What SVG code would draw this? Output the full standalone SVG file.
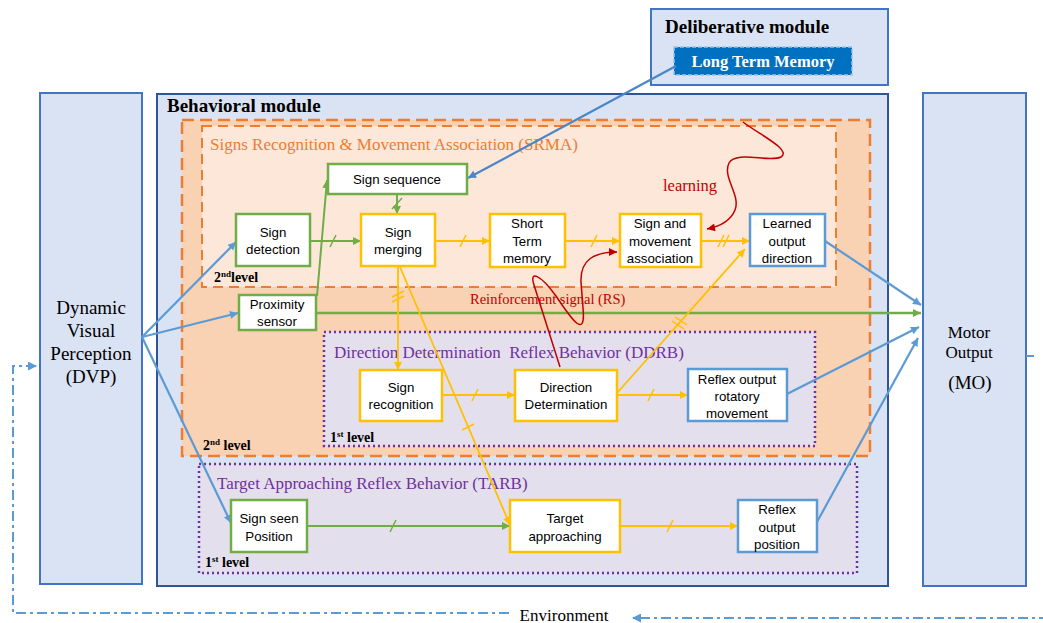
<svg xmlns="http://www.w3.org/2000/svg" width="1043" height="623" viewBox="0 0 1043 623">
<style>
.serif{font-family:"Liberation Serif","Times New Roman",serif}
.sans{font-family:"Liberation Sans",Arial,sans-serif;font-size:13.3px;fill:#000;text-anchor:middle}
.mod{fill:#dae3f3;stroke:#4472c4;stroke-width:2}
.gbox{fill:#fff;stroke:#70ad47;stroke-width:2.5}
.ybox{fill:#fff;stroke:#ffc000;stroke-width:2.5}
.bbox{fill:#fff;stroke:#5b9bd5;stroke-width:2.5}
.blue{fill:none;stroke:#5b9bd5;stroke-width:2.2}
.green{fill:none;stroke:#70ad47;stroke-width:2}
.yellow{fill:none;stroke:#ffc000;stroke-width:1.8}
.red{fill:none;stroke:#c00000;stroke-width:1.5}
.env{fill:none;stroke:#5b9bd5;stroke-width:2;stroke-dasharray:10 4 3 4}
.tickg{stroke:#70ad47;stroke-width:1.5;fill:none}
.ticky{stroke:#ffc000;stroke-width:1.5;fill:none}
.lvl{font-family:"Liberation Serif","Times New Roman",serif;font-weight:bold;font-size:14px}
.rlab{font-family:"Liberation Serif","Times New Roman",serif;font-size:17px}
</style>
<defs>
<marker id="ab" viewBox="0 0 10 10" refX="10" refY="5" markerWidth="10" markerHeight="8" markerUnits="userSpaceOnUse" orient="auto"><path d="M0,0 L10,5 L0,10 z" fill="#5b9bd5"/></marker>
<marker id="ab2" viewBox="0 0 10 10" refX="10" refY="5" markerWidth="10" markerHeight="8" markerUnits="userSpaceOnUse" orient="auto"><path d="M0,0 L10,5 L0,10 z" fill="#4a86c8"/></marker>
<marker id="ag" viewBox="0 0 10 10" refX="10" refY="5" markerWidth="9" markerHeight="8" markerUnits="userSpaceOnUse" orient="auto"><path d="M0,0 L10,5 L0,10 z" fill="#70ad47"/></marker>
<marker id="ay" viewBox="0 0 10 10" refX="10" refY="5" markerWidth="9" markerHeight="8" markerUnits="userSpaceOnUse" orient="auto"><path d="M0,0 L10,5 L0,10 z" fill="#ffc000"/></marker>
<marker id="ar" viewBox="0 0 10 10" refX="10" refY="5" markerWidth="9" markerHeight="8" markerUnits="userSpaceOnUse" orient="auto"><path d="M0,0 L10,5 L0,10 z" fill="#c00000"/></marker>
<marker id="ae" viewBox="0 0 10 10" refX="10" refY="5" markerWidth="10" markerHeight="9" markerUnits="userSpaceOnUse" orient="auto"><path d="M0,0 L10,5 L0,10 z" fill="#5b9bd5"/></marker>
</defs>
<rect width="1043" height="623" fill="#fff"/>

<g id="deliberative-module">
<rect class="mod" x="651" y="9" width="237" height="76"/>
<text class="serif" x="665" y="33" font-size="19" font-weight="bold">Deliberative module</text>
</g>
<g id="long-term-memory">
<rect x="674" y="47" width="178" height="28" fill="#0070c0" stroke="#9dc3e6" stroke-width="1.5" stroke-dasharray="4 2"/>
<text class="serif" x="763" y="67" font-size="16.5" font-weight="bold" fill="#fff" text-anchor="middle">Long Term Memory</text>
</g>

<g id="dvp">
<rect class="mod" x="40" y="93" width="102" height="491"/>
<text class="serif" font-size="19" text-anchor="middle"><tspan x="91" y="314">Dynamic</tspan><tspan x="91" y="337">Visual</tspan><tspan x="91" y="360">Perception</tspan><tspan x="91" y="383">(DVP)</tspan></text>
</g>
<g id="mo">
<rect class="mod" x="923" y="93" width="103" height="493"/>
<text class="serif" font-size="17" text-anchor="middle"><tspan x="969" y="338">Motor</tspan><tspan x="969" y="358">Output</tspan><tspan x="970" y="389" font-size="19">(MO)</tspan></text>
</g>

<g id="behavioral-module">
<rect x="157" y="94" width="731" height="492" fill="#dae3f3" stroke="#2f5597" stroke-width="2"/>
<text class="serif" x="167" y="112" font-size="19" font-weight="bold">Behavioral module</text>
</g>

<g id="second-level-region">
<rect x="182" y="120" width="688" height="336" fill="#f9d1b3" stroke="#ed7d31" stroke-width="2.5" stroke-dasharray="12 6"/>
<text class="lvl" x="203" y="450">2<tspan font-size="9" dy="-5">nd</tspan><tspan dy="5"> level</tspan></text>
</g>
<g id="srma">
<rect x="202" y="126" width="634" height="161" fill="#fce7d9" stroke="#ed7d31" stroke-width="2" stroke-dasharray="10 6"/>
<text class="rlab" x="210" y="150" fill="#ed7d31">Signs Recognition &amp; Movement Association (SRMA)</text>
<text class="lvl" x="214" y="282">2<tspan font-size="9" dy="-5">nd</tspan><tspan dy="5">level</tspan></text>
<text class="serif" x="470" y="304" font-size="14.5" fill="#c00000">Reinforcement signal (RS)</text>
<text class="serif" x="690" y="191" font-size="16.5" fill="#c00000" text-anchor="middle">learning</text>
</g>
<g id="ddrb">
<rect x="324" y="332" width="491" height="114" fill="#e4dfec" stroke="#7030a0" stroke-width="2.5" stroke-dasharray="2 3"/>
<text class="rlab" x="334" y="358" fill="#7030a0" xml:space="preserve">Direction Determination  Reflex Behavior (DDRB)</text>
<text class="lvl" x="330" y="442">1<tspan font-size="9" dy="-5">st</tspan><tspan dy="5"> level</tspan></text>
</g>
<g id="tarb">
<rect x="199" y="464" width="658" height="109" fill="#e4dfec" stroke="#7030a0" stroke-width="2.5" stroke-dasharray="2 3"/>
<text class="rlab" x="217" y="489" fill="#7030a0">Target Approaching Reflex Behavior (TARB)</text>
<text class="lvl" x="205" y="567">1<tspan font-size="9" dy="-5">st</tspan><tspan dy="5"> level</tspan></text>
</g>

<g id="connectors">
<path class="blue" d="M142,337 L236,242" marker-end="url(#ab)"/>
<path class="blue" d="M142,337 L238,313" marker-end="url(#ab)"/>
<path class="blue" d="M142,337 L231,523" marker-end="url(#ab)"/>
<path class="blue" style="stroke:#4a86c8" d="M676,66 L468,178" marker-end="url(#ab2)"/>
<path class="blue" d="M825,241 L921,305" marker-end="url(#ab)"/>
<path class="blue" d="M787,394 L919,327" marker-end="url(#ab)"/>
<path class="blue" d="M817,522 L918,338" marker-end="url(#ab)"/>

<path class="green" d="M310,241 L361,241" marker-end="url(#ag)"/>
<path class="green" d="M397,194 L397,214" marker-end="url(#ag)"/>
<path class="green" style="stroke-width:2.5" d="M316,313 L921,313" marker-end="url(#ag)"/>
<path class="green" d="M317,296 L327,180" marker-end="url(#ag)"/>
<path class="green" d="M307,526 L510,526" marker-end="url(#ag)"/>

<path class="yellow" d="M435,241 L490,241" marker-end="url(#ay)"/>
<path class="yellow" d="M565,241 L620,241" marker-end="url(#ay)"/>
<path class="yellow" d="M701,241 L750,241" marker-end="url(#ay)"/>
<path class="yellow" d="M398,266 L398,370" marker-end="url(#ay)"/>
<path class="yellow" d="M400,267 L510,525" marker-end="url(#ay)"/>
<path class="yellow" d="M442,395 L515,395" marker-end="url(#ay)"/>
<path class="yellow" d="M617,395 L688,395" marker-end="url(#ay)"/>
<path class="yellow" d="M617,393 L745,249" marker-end="url(#ay)"/>
<path class="yellow" d="M620,526 L738,526" marker-end="url(#ay)"/>

<path class="tickg" d="M330,247 L336,235"/>
<path class="tickg" d="M392,209 L402,198"/>
<path class="tickg" d="M390,532 L396,520"/>
<path class="ticky" d="M460,247 L466,235"/>
<path class="ticky" d="M591,247 L597,235"/>
<path class="ticky" d="M718,247 L724,235 M723,247 L729,235"/>
<path class="ticky" d="M392,297 L404,291 M392,302 L404,296"/>
<path class="ticky" d="M462,430 L474,424"/>
<path class="ticky" d="M472,401 L478,389"/>
<path class="ticky" d="M648,401 L654,389"/>
<path class="ticky" d="M672,321 L684,329 M675,317 L687,325"/>
<path class="ticky" d="M667,532 L673,520"/>

<path class="red" d="M560,367 L534,285 C529,270 540,274 556,296 C572,320 586,340 583,308 L581,282 C580,260 594,252 617,252" marker-end="url(#ar)"/>
<path class="red" d="M743,122 C760,135 792,150 781,157 C770,163 736,150 729,163 C722,177 741,195 735,210 C731,220 722,226 707,229" marker-end="url(#ar)"/>

<path class="env" d="M509,613 L13,613 L13,366 L37,366" marker-end="url(#ae)"/>
<path class="env" d="M1026,356 L1034,356 M1060,356 L1060,618 L632,618" marker-end="url(#ae)"/>
</g>

<g id="environment">
<text class="serif" x="564" y="621" font-size="17" text-anchor="middle">Environment</text>
</g>

<g id="sign-sequence"><rect class="gbox" x="328" y="164" width="139" height="30"/><text class="sans" x="397" y="184">Sign sequence</text></g>
<g id="sign-detection"><rect class="gbox" x="236" y="214" width="74" height="52"/><text class="sans"><tspan x="273" y="237">Sign</tspan><tspan x="273" y="254">detection</tspan></text></g>
<g id="sign-merging"><rect class="ybox" x="361" y="214" width="74" height="52"/><text class="sans"><tspan x="398" y="237">Sign</tspan><tspan x="398" y="254">merging</tspan></text></g>
<g id="short-term-memory"><rect class="ybox" x="490" y="214" width="75" height="53"/><text class="sans"><tspan x="527" y="228">Short</tspan><tspan x="527" y="246">Term</tspan><tspan x="527" y="263">memory</tspan></text></g>
<g id="sign-movement-association"><rect class="ybox" x="620" y="214" width="81" height="53"/><text class="sans"><tspan x="660" y="228">Sign and</tspan><tspan x="660" y="246">movement</tspan><tspan x="660" y="263">association</tspan></text></g>
<g id="learned-output-direction"><rect class="bbox" x="750" y="214" width="75" height="52"/><text class="sans"><tspan x="787" y="228">Learned</tspan><tspan x="787" y="246">output</tspan><tspan x="787" y="263">direction</tspan></text></g>
<g id="proximity-sensor"><rect class="gbox" x="239" y="295" width="77" height="35"/><text class="sans"><tspan x="277" y="309">Proximity</tspan><tspan x="277" y="326">sensor</tspan></text></g>
<g id="sign-recognition"><rect class="ybox" x="360" y="370" width="82" height="51"/><text class="sans"><tspan x="401" y="392">Sign</tspan><tspan x="401" y="409">recognition</tspan></text></g>
<g id="direction-determination"><rect class="ybox" x="515" y="370" width="102" height="51"/><text class="sans"><tspan x="566" y="392">Direction</tspan><tspan x="566" y="409">Determination</tspan></text></g>
<g id="reflex-output-rotatory"><rect class="bbox" x="688" y="369" width="99" height="52"/><text class="sans"><tspan x="737" y="384">Reflex output</tspan><tspan x="737" y="401">rotatory</tspan><tspan x="737" y="418">movement</tspan></text></g>
<g id="sign-seen-position"><rect class="gbox" x="231" y="500" width="76" height="52"/><text class="sans"><tspan x="269" y="523">Sign seen</tspan><tspan x="269" y="541">Position</tspan></text></g>
<g id="target-approaching"><rect class="ybox" x="510" y="500" width="110" height="52"/><text class="sans"><tspan x="565" y="523">Target</tspan><tspan x="565" y="541">approaching</tspan></text></g>
<g id="reflex-output-position"><rect class="bbox" x="738" y="500" width="79" height="52"/><text class="sans"><tspan x="777" y="514">Reflex</tspan><tspan x="777" y="532">output</tspan><tspan x="777" y="549">position</tspan></text></g>
</svg>
